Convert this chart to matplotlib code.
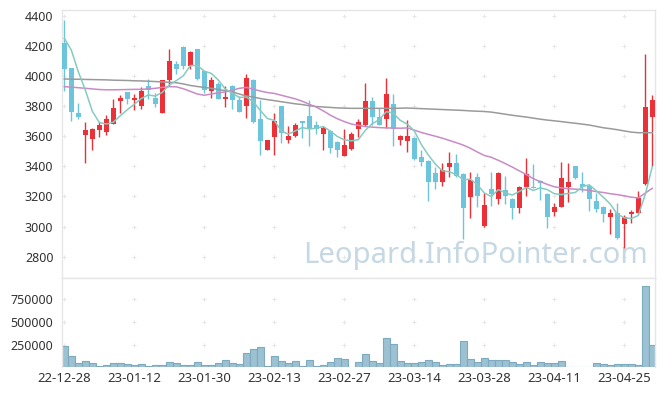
import matplotlib
matplotlib.use("Agg")
import matplotlib.pyplot as plt
import numpy as np

plt.rcParams["font.family"] = ["Noto Sans", "DejaVu Sans"]

# ---------------------------------------------------------------------------
# Daten
# ---------------------------------------------------------------------------
opens = [4217, 4053, 3754, 3610, 3583, 3643, 3630, 3683, 3836, 3893,
         3840, 3803, 3933, 3854, 3756, 3973, 4079, 4194, 4066, 4179,
         4031, 3898, 3947, 3849, 3933, 3840, 3803, 3973, 3714, 3511,
         3597, 3800, 3577, 3601, 3699, 3734, 3677, 3617, 3637, 3561,
         3471, 3513, 3650, 3672, 3836, 3730, 3712, 3812, 3573, 3570,
         3590, 3464, 3435, 3356, 3296, 3398, 3422, 3349, 3194, 3329,
         3004, 3250, 3185, 3243, 3183, 3125, 3261, 3265, 3300, 3216,
         3099, 3132, 3265, 3400, 3280, 3270, 3170, 3130, 3066, 3090,
         3015, 3082, 3088, 3281, 3730]
highs = [4371, 4055, 3818, 3696, 3655, 3696, 3743, 3845, 3874, 3895,
         3878, 3929, 3978, 3885, 3975, 4177, 4099, 4197, 4168, 4180,
         4035, 3995, 3960, 3933, 3940, 3870, 4011, 3980, 3840, 3578,
         3752, 3802, 3668, 3690, 3702, 3840, 3700, 3670, 3640, 3570,
         3650, 3628, 3714, 3955, 3860, 3789, 3988, 3878, 3610, 3708,
         3595, 3508, 3440, 3394, 3420, 3493, 3482, 3355, 3360, 3358,
         3225, 3360, 3360, 3338, 3190, 3268, 3457, 3413, 3310, 3220,
         3159, 3431, 3420, 3405, 3360, 3275, 3225, 3135, 3117, 3159,
         3075, 3110, 3236, 4144, 3874]
lows = [3900, 3700, 3712, 3420, 3506, 3593, 3608, 3680, 3752, 3816,
        3774, 3781, 3850, 3796, 3752, 3933, 4013, 4044, 4048, 3975,
        3889, 3854, 3845, 3796, 3779, 3760, 3719, 3690, 3475, 3505,
        3473, 3557, 3553, 3597, 3590, 3535, 3615, 3508, 3491, 3464,
        3468, 3508, 3593, 3668, 3672, 3675, 3652, 3535, 3542, 3497,
        3445, 3402, 3172, 3250, 3270, 3329, 3330, 2918, 3055, 3132,
        3000, 3139, 3150, 3150, 3048, 3088, 3203, 3255, 3176, 2988,
        3072, 3128, 3166, 3315, 3230, 3103, 3099, 3033, 2949, 2920,
        2856, 3022, 3085, 3275, 3404]
closes = [4048, 3763, 3730, 3641, 3648, 3674, 3714, 3787, 3856, 3849,
          3856, 3900, 3910, 3816, 3973, 4099, 4048, 4068, 4159, 3978,
          3907, 3973, 3849, 3860, 3840, 3763, 3986, 3696, 3568, 3575,
          3701, 3623, 3603, 3672, 3688, 3652, 3650, 3656, 3524, 3508,
          3542, 3615, 3696, 3836, 3726, 3677, 3878, 3646, 3599, 3601,
          3449, 3431, 3296, 3296, 3376, 3422, 3336, 3125, 3309, 3203,
          3143, 3216, 3354, 3205, 3125, 3263, 3349, 3258, 3290, 3066,
          3128, 3320, 3294, 3320, 3265, 3185, 3119, 3086, 3092, 2926,
          3066, 3095, 3188, 3796, 3840]
volumes = [237000, 128000, 49000, 74000, 49000, 20000, 30000, 49000, 49000, 38000,
           30000, 38000, 20000, 27000, 27000, 60000, 49000, 27000, 27000, 60000,
           27000, 27000, 49000, 81000, 49000, 38000, 158000, 201000, 223000, 15000,
           128000, 71000, 49000, 71000, 15000, 81000, 15000, 27000, 60000, 103000,
           92000, 5000, 60000, 147000, 71000, 49000, 321000, 255000, 71000, 49000,
           49000, 60000, 85000, 60000, 27000, 38000, 38000, 288000, 92000, 60000,
           103000, 81000, 81000, 81000, 60000, 38000, 60000, 27000, 60000, 49000,
           49000, 71000, 10000, 10000, 10000, 10000, 49000, 38000, 27000, 38000,
           38000, 38000, 27000, 889000, 245000]

ma5 = [4250, 4172, 4028, 3907, 3766, 3691, 3681, 3693, 3736, 3776,
       3812, 3850, 3874, 3866, 3891, 3940, 3969, 4001, 4069, 4070,
       4032, 4017, 3973, 3913, 3886, 3857, 3860, 3829, 3771, 3718,
       3705, 3633, 3614, 3635, 3657, 3648, 3653, 3664, 3634, 3598,
       3576, 3569, 3577, 3639, 3683, 3710, 3763, 3753, 3705, 3680,
       3635, 3545, 3475, 3415, 3370, 3364, 3345, 3311, 3314, 3279,
       3223, 3199, 3245, 3224, 3209, 3233, 3259, 3240, 3257, 3245,
       3218, 3212, 3220, 3226, 3265, 3277, 3237, 3195, 3149, 3082,
       3058, 3053, 3073, 3214, 3397]
ma20 = [3929, 3926, 3922, 3918, 3914, 3910, 3908, 3908, 3909, 3910,
        3911, 3911, 3914, 3918, 3924, 3929, 3928, 3915, 3898, 3880,
        3872, 3880, 3888, 3894, 3905, 3918, 3924, 3912, 3900, 3890,
        3884, 3872, 3860, 3848, 3832, 3812, 3793, 3768, 3740, 3716,
        3697, 3681, 3672, 3664, 3660, 3657, 3655, 3654, 3653, 3655,
        3640, 3625, 3612, 3600, 3587, 3572, 3557, 3541, 3520, 3495,
        3472, 3460, 3440, 3418, 3395, 3370, 3345, 3318, 3298, 3280,
        3264, 3257, 3251, 3248, 3245, 3240, 3232, 3226, 3218, 3212,
        3204, 3195, 3190, 3222, 3254]
ma_long = [3980, 3979, 3978, 3977, 3976, 3975, 3974, 3972, 3971, 3970,
           3968, 3967, 3965, 3963, 3960, 3958, 3955, 3947, 3937, 3930,
           3924, 3918, 3910, 3902, 3894, 3880, 3867, 3860, 3850, 3843,
           3836, 3829, 3822, 3815, 3810, 3802, 3797, 3794, 3791, 3788,
           3786, 3785, 3785, 3785, 3785, 3785, 3785, 3785, 3786, 3787,
           3785, 3783, 3781, 3779, 3777, 3775, 3773, 3771, 3768, 3766,
           3764, 3760, 3753, 3746, 3739, 3733, 3727, 3720, 3713, 3707,
           3702, 3697, 3691, 3686, 3680, 3674, 3665, 3656, 3650, 3643,
           3635, 3627, 3623, 3623, 3623]

tick_labels = ["22-12-28", "23-01-12", "23-01-30", "23-02-13", "23-02-27",
               "23-03-14", "23-03-28", "23-04-11", "23-04-25"]
price_ticks = [2800, 3000, 3200, 3400, 3600, 3800, 4000, 4200, 4400]
volume_ticks = [250000, 500000, 750000]

UP = "#ec3038"
DOWN = "#6cc4dd"
TEXT = "#333333"
FRAME = "#e6e6e6"

x = np.arange(len(closes))
o = np.array(opens)
c = np.array(closes)
colors = [UP if cc >= oo else DOWN for oo, cc in zip(o, c)]
tick_pos = np.arange(0, len(closes), 10)[:len(tick_labels)]

fig = plt.figure(figsize=(6.65, 3.96), dpi=100)
ax = fig.add_axes([0.0928, 0.2987, 0.8926, 0.676])
axv = fig.add_axes([0.0928, 0.072, 0.8926, 0.2267], sharex=ax)

# Gitter als kleine Kreuze
gx, gy = np.meshgrid(tick_pos, price_ticks)
ax.scatter(gx.ravel(), gy.ravel(), marker="+", s=9, c="#e6e6e6", lw=0.7, zorder=0)
gx, gy = np.meshgrid(tick_pos, volume_ticks)
axv.scatter(gx.ravel(), gy.ravel(), marker="+", s=9, c="#e6e6e6", lw=0.7, zorder=0)

# Kerzen
ax.vlines(x, lows, highs, colors=colors, lw=1.0, zorder=2)
ax.bar(x, np.abs(c - o), bottom=np.minimum(o, c), width=0.72, color=colors, zorder=3)

# Gleitende Durchschnitte
ax.plot(x, ma_long, color="#9a9a9a", lw=1.1, zorder=4)
ax.plot(x, ma20, color="#c98bc6", lw=1.1, zorder=4)
ax.plot(x, ma5, color="#86cbc0", lw=1.1, zorder=4)

ax.text(0.988, 0.054, "Leopard.InfoPointer.com", transform=ax.transAxes,
        ha="right", va="baseline", fontsize=21, color="#c5d8e4", zorder=1)

ax.set_xlim(-0.37, 84.43)
ax.set_ylim(2660, 4438)
ax.set_yticks(price_ticks)
ax.tick_params(axis="y", length=0, pad=6, labelsize=9, labelcolor=TEXT)
ax.tick_params(axis="x", length=0, labelbottom=False)

# Volumen
axv.bar(x, volumes, width=1.0, color="#9cc1d2", edgecolor="#7eaabf", lw=0.8, zorder=2)
axv.set_ylim(0, 979000)
axv.set_yticks(volume_ticks)
axv.set_yticklabels([str(v) for v in volume_ticks])
axv.set_xticks(tick_pos)
axv.set_xticklabels(tick_labels)
axv.tick_params(axis="y", length=0, pad=6, labelsize=9, labelcolor=TEXT)
axv.tick_params(axis="x", length=0, pad=3, labelsize=9.5, labelcolor=TEXT)

for a in (ax, axv):
    for s in a.spines.values():
        s.set_color(FRAME)
        s.set_linewidth(1.0)
axv.spines["bottom"].set_visible(False)

fig.savefig("out.png", dpi=100)
